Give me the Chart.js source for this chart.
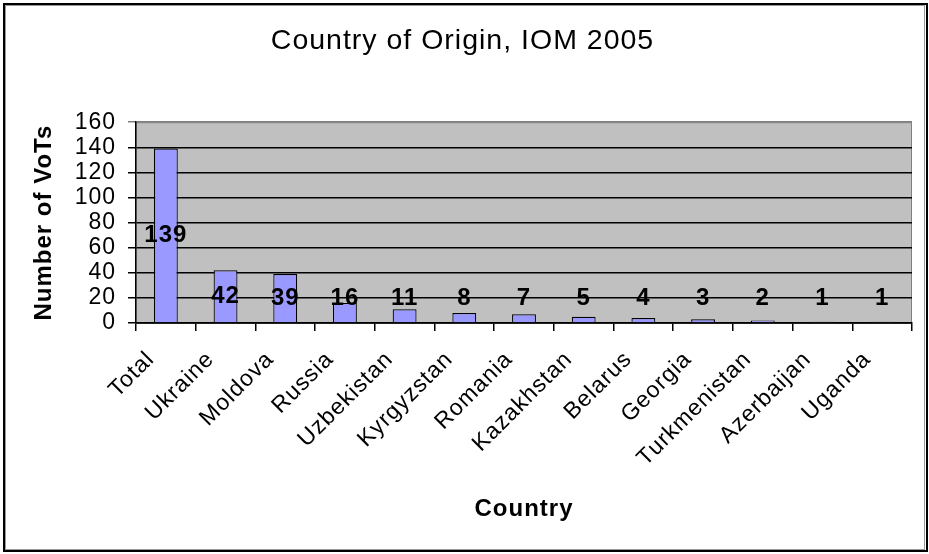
<!DOCTYPE html>
<html lang="en">

<head>
  <meta charset="UTF-8" />
  <title>Country of Origin, IOM 2005</title>
  <script src="https://cdn.jsdelivr.net/npm/chart.js"></script>
  <style>
    html, body { margin: 0; padding: 0; background: #fff; }
    #wrap { width: 929px; height: 554px; }
  </style>
</head>

<body>
  <div id="wrap"><canvas id="chart" width="929" height="554"></canvas></div>

  <script>
    const countries = ['Total', 'Ukraine', 'Moldova', 'Russia', 'Uzbekistan', 'Kyrgyzstan', 'Romania',
      'Kazakhstan', 'Belarus', 'Georgia', 'Turkmenistan', 'Azerbaijan', 'Uganda'];
    const vots = [139, 42, 39, 16, 11, 8, 7, 5, 4, 3, 2, 1, 1];
    const yMin = 0;
    const yMax = 160;
    const yStep = 20;

    const FONT = '"Liberation Sans", Arial, sans-serif';

    // grey plot area + outer frame like the old Excel chart
    const frame = {
      id: 'frame',
      beforeUpdate(chart) {
        chart.ctx.letterSpacing = '1px';
      },
      beforeDraw(chart) {
        const { ctx, chartArea: a } = chart;
        ctx.letterSpacing = '1px';
        ctx.save();
        ctx.fillStyle = '#fff';
        ctx.fillRect(0, 0, chart.width, chart.height);
        ctx.fillStyle = '#c0c0c0';
        ctx.fillRect(a.left, a.top, a.right - a.left, a.bottom - a.top);
        ctx.strokeStyle = '#808080';
        ctx.lineWidth = 1;
        ctx.strokeRect(a.left, a.top + 0.5, a.right - a.left - 0.5, a.bottom - a.top);
        ctx.restore();
      },
      afterDraw(chart) {
        const ctx = chart.ctx;
        ctx.save();
        ctx.strokeStyle = '#000';
        ctx.lineWidth = 2;
        ctx.strokeRect(4, 4, chart.width - 6, chart.height - 7);
        ctx.strokeStyle = '#999';
        ctx.lineWidth = 1;
        ctx.strokeRect(5.5, 5.5, chart.width - 10, chart.height - 10);
        ctx.restore();
      }
    };

    // value labels in the middle of each bar, kept above the axis for short bars
    const barLabels = {
      id: 'barLabels',
      afterDatasetsDraw(chart) {
        const ctx = chart.ctx;
        const meta = chart.getDatasetMeta(0);
        ctx.save();
        ctx.font = 'bold 24px ' + FONT;
        ctx.fillStyle = '#000';
        ctx.textAlign = 'center';
        ctx.textBaseline = 'middle';
        meta.data.forEach((bar, i) => {
          const mid = (bar.y + bar.base) / 2;
          const y = Math.min(mid, bar.base - 24);
          ctx.fillText(vots[i], bar.x, y);
        });
        ctx.restore();
      }
    };

    new Chart(document.getElementById('chart'), {
      type: 'bar',
      data: {
        labels: countries,
        datasets: [{
          label: 'Number of VoTs',
          data: vots,
          backgroundColor: '#9999ff',
          borderColor: '#000',
          borderWidth: 1.2,
          barPercentage: 0.4,
          categoryPercentage: 1
        }]
      },
      options: {
        responsive: false,
        animation: false,
        layout: { padding: { left: 13, right: 17, top: 0, bottom: 30 } },
        plugins: {
          legend: { display: false },
          tooltip: { enabled: false },
          title: {
            display: true,
            text: 'Country of Origin, IOM 2005',
            color: '#000',
            font: { family: FONT, size: 28.5, weight: 'normal' },
            padding: { top: 24, bottom: 64 }
          }
        },
        scales: {
          x: {
            afterFit(scale) { scale.height = 201; },
            grid: { drawOnChartArea: false, color: '#000', lineWidth: 1.5, tickLength: 8, offset: true },
            border: { color: '#000', width: 1.5 },
            ticks: {
              color: '#000',
              font: { family: FONT, size: 23 },
              minRotation: 45,
              maxRotation: 45,
              padding: 15,
              labelOffset: -15,
              autoSkip: false
            },
            title: {
              display: true,
              text: 'Country',
              color: '#000',
              font: { family: FONT, size: 24, weight: 'bold' },
              padding: 0
            }
          },
          y: {
            min: yMin,
            max: yMax,
            afterFit(scale) { scale.width = 123; },
            grid: {
              color: (c) => c.tick && c.tick.value === yMax ? '#808080' : '#000',
              lineWidth: 1.5,
              tickLength: 8
            },
            border: { color: '#000', width: 1.5 },
            ticks: {
              stepSize: yStep,
              autoSkip: false,
              color: '#000',
              font: { family: FONT, size: 23 },
              padding: 12
            },
            title: {
              display: true,
              text: 'Number of VoTs',
              color: '#000',
              font: { family: FONT, size: 24, weight: 'bold' },
              padding: { top: 17, bottom: 0 }
            }
          }
        }
      },
      plugins: [frame, barLabels]
    });
  </script>
</body>

</html>
